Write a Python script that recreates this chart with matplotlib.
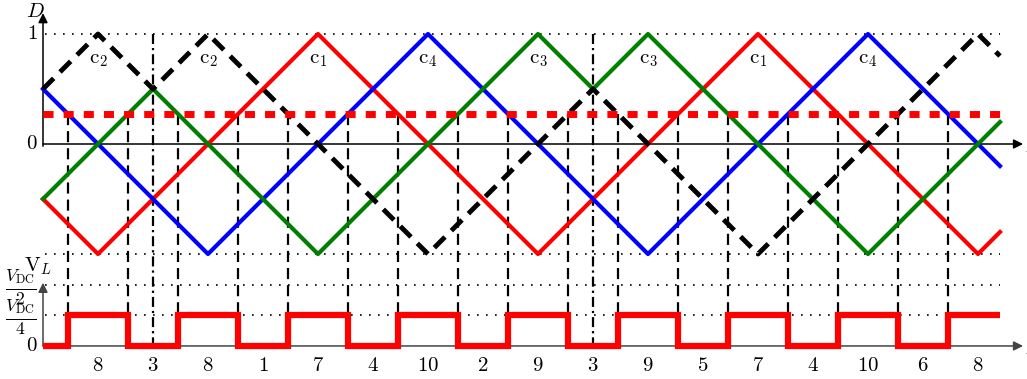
import numpy as np
import matplotlib
matplotlib.use("Agg")
from matplotlib import pyplot as plt

plt.rcParams['mathtext.fontset'] = 'cm'
plt.rcParams['font.family'] = 'serif'
plt.rcParams['font.serif'] = ['cmr10', 'DejaVu Serif']

# carrier vertices (time in quarter periods, duty D)
t_c1 = [0, 0.5, 2.5, 4.5, 6.5, 8.5, 8.7]
d_c1 = [-0.5, -1, 1, -1, 1, -1, -0.8]
t_c4 = [0, 1.5, 3.5, 5.5, 7.5, 8.7]
d_c4 = [0.5, -1, 1, -1, 1, -0.2]
t_c3 = [0, 1, 2.5, 4.5, 5, 5.5, 7.5, 8.7]
d_c3 = [-0.5, 0.5, -1, 1, 0.5, 1, -1, 0.2]
t_c2 = [0, 0.5, 1, 1.5, 3.5, 5, 6.5, 8.5, 8.7]
d_c2 = [0.5, 1, 0.5, 1, -1, 0.5, -1, 1, 0.8]

ref_level = 0.27
t_end = 8.7

# carrier swap instants (dash-dot lines)
swap_t = [1, 5]

# switching instants where the reference meets a carrier
switch_t = [0.23, 0.77, 1.23, 1.77, 2.23, 2.77, 3.23, 3.77, 4.23,
            4.77, 5.23, 5.77, 6.23, 6.77, 7.23, 7.77, 8.23]
# output voltage in units of V_DC for each interval
v_levels = [0, 0.25, 0, 0.25, 0, 0.25, 0, 0.25, 0,
            0.25, 0, 0.25, 0, 0.25, 0, 0.25, 0, 0.25]

# switching-state number of every interval
state_t = [0.5, 1, 1.5, 2, 2.5, 3, 3.5, 4, 4.5, 5, 5.5, 6, 6.5, 7, 7.5, 8, 8.5]
state_labels = ['8', '3', '8', '1', '7', '4', '10', '2', '9',
                '3', '9', '5', '7', '4', '10', '6', '8']

# carrier names written under the peaks
peak_t = [0.5, 1.5, 2.5, 3.5, 4.5, 5.5, 6.5, 7.5]
peak_names = ['2', '2', '1', '4', '3', '3', '1', '4']

# lower plot placed under the carriers
v_base = -1.836
v_scale = 1.109


def vy(v):
    return v_base + v * v_scale


fig = plt.figure(figsize=(10.27, 3.79), dpi=100)
ax = fig.add_axes([0, 0, 1, 1])
ax.set_xlim(-43 / 110, 984 / 110)
ax.set_ylim(-235 / 110, 144 / 110)
ax.axis('off')

dot = (0, (1, 4.4))

# dotted guide lines
for y in [1, -1, vy(0.5), vy(0.25)]:
    ax.plot([0.02, t_end], [y, y], color='black', lw=1.2, ls=dot, zorder=1)

# axes with arrows
ax.annotate('', xy=(8.91, 0), xytext=(0, 0),
            arrowprops=dict(arrowstyle='-|>', color='black', lw=1.1,
                            mutation_scale=14, shrinkA=0, shrinkB=0), zorder=2)
ax.annotate('', xy=(0, 1.19), xytext=(0, -0.02),
            arrowprops=dict(arrowstyle='-|>', color='black', lw=1.1,
                            mutation_scale=14, shrinkA=0, shrinkB=0), zorder=2)
ax.annotate('', xy=(8.91, v_base), xytext=(0, v_base),
            arrowprops=dict(arrowstyle='-|>', color='#444444', lw=1.1,
                            mutation_scale=14, shrinkA=0, shrinkB=0), zorder=2)
ax.annotate('', xy=(0, vy(0.5) + 0.02), xytext=(0, v_base),
            arrowprops=dict(arrowstyle='-|>', color='#444444', lw=1.1,
                            mutation_scale=14, shrinkA=0, shrinkB=0), zorder=2)

# vertical dashed lines at the switching instants
for ts in switch_t:
    ax.plot([ts, ts], [ref_level, vy(0.25)], color='black', lw=1.6,
            ls=(0, (5, 2.7)), zorder=3)

# dash-dot lines where carriers swap
for ts in swap_t:
    ax.plot([ts, ts], [1, v_base], color='black', lw=1.6,
            ls=(0, (4.5, 1.8, 1, 1.8)), zorder=3)

# carriers
ax.plot(t_c1, d_c1, color='#ff0000', lw=3, zorder=4)
ax.plot(t_c4, d_c4, color='#0000ff', lw=3, zorder=4)
ax.plot(t_c3, d_c3, color='#008000', lw=3, zorder=4)
ax.plot(t_c2, d_c2, color='black', lw=3.5, ls=(0, (3.1, 1.85)), zorder=5)

# reference
ax.plot([0, t_end], [ref_level, ref_level], color='#ff0000', lw=5,
        ls=(0, (1.45, 1.45)), dash_capstyle='butt', zorder=6)

# output voltage
edges = [0] + switch_t + [t_end]
ax.stairs([vy(v) for v in v_levels], edges, baseline=None,
          color='#ff0000', lw=4.5, zorder=6)

# text
fs = 15
ax.text(-0.07, 1.2, r'$D$', fontsize=fs, ha='center', va='center')
ax.text(-0.05, 1, r'$1$', fontsize=fs, ha='right', va='center')
ax.text(-0.05, 0, r'$0$', fontsize=fs, ha='right', va='center')
ax.text(-0.05, v_base, r'$0$', fontsize=fs, ha='right', va='center')
ax.text(-0.06, vy(0.25) - 0.02, r'$\frac{V_{\rm DC}}{4}$', fontsize=18,
        ha='right', va='center')
ax.text(-0.06, vy(0.5) - 0.02, r'$\frac{V_{\rm DC}}{2}$', fontsize=18,
        ha='right', va='center')
ax.text(-0.17, vy(0.5) + 0.17, r'$\mathrm{V}_L$', fontsize=fs,
        ha='left', va='center')
ax.text(8.93, -0.1, r'$t$', fontsize=fs, ha='left', va='center')
ax.text(8.93, v_base - 0.1, r'$t$', fontsize=fs, ha='left', va='center')

for tp, name in zip(peak_t, peak_names):
    ax.text(tp, 0.76, r'$\mathrm{c}_%s$' % name, fontsize=fs,
            ha='center', va='center', zorder=7)

for ts, lab in zip(state_t, state_labels):
    ax.text(ts, v_base - 0.18, r'$%s$' % lab, fontsize=fs,
            ha='center', va='center')

fig.savefig('out.png', dpi=100)
